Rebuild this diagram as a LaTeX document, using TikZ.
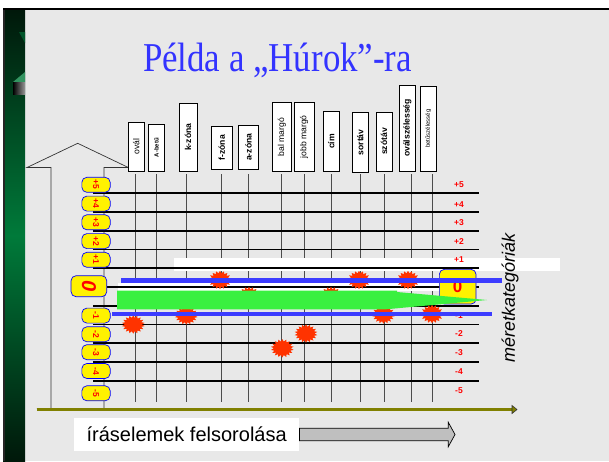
\documentclass[tikz,border=0pt]{standalone}
\usepackage{fontspec}
\setmainfont{Liberation Serif}
\setsansfont{Liberation Sans}
\usetikzlibrary{arrows.meta,shapes.geometric}
\definecolor{bgGrey}{RGB}{232,232,232}
\definecolor{hBlue}{RGB}{60,60,255}
\definecolor{tBlue}{RGB}{51,51,255}
\definecolor{hGreen}{RGB}{58,240,64}
\definecolor{hRed}{RGB}{255,51,0}
\definecolor{lRed}{RGB}{255,0,0}
\definecolor{hOlive}{RGB}{128,128,0}
\definecolor{sGreen}{RGB}{0,122,58}
\definecolor{sDark}{RGB}{0,24,10}
\tikzset{lb/.style={draw, fill=white, line width=.9pt, inner sep=0pt,
  font=\fontsize{8.6}{8.6}\selectfont\sffamily}}
\tikzset{yb/.style={draw=blue, fill=yellow, rounded corners=5pt,
  line width=.7pt, minimum width=28.3, minimum height=15, inner sep=0pt,
  text=lRed, font=\fontsize{8.5}{8.5}\selectfont\sffamily\bfseries}}
\tikzset{bu/.style={star, star points=18, star point ratio=1.35,
  fill=hRed, inner sep=0pt, minimum size=23, yscale=.8, transform shape}}
\tikzset{hl/.style={draw, line width=1.8pt}}
\tikzset{vl/.style={draw, black!70, line width=.7pt}}
\tikzset{rl/.style={text=lRed, font=\fontsize{8.5}{8.5}\selectfont\sffamily\bfseries}}
\tikzset{bl/.style={fill=hBlue}}

\begin{document}
\begin{tikzpicture}[x=1pt,y=-1pt]
    \useasboundingbox (0,0) rectangle (609,461);
    \fill[white] (0,0) rectangle (609,461);
    \fill[bgGrey] (25,10) rectangle (609,461);
    %% house arrow
    \draw[black!80, line width=.7pt, fill=bgGrey] (51,409) -- (51,167.5)
        -- (27,167.5) -- (77.7,143.3) -- (128.3,167.5) -- (104,167.5) -- (104,409);
    %% left strip
    \fill[black] (3,8) rectangle (609,10);
    \shade[top color=sDark, bottom color=sDark, middle color=sGreen] (3,10) rectangle (25,461);
    \fill[black!85] (3,10) rectangle (4.5,461);
    \fill[sGreen!70!black] (19,32) -- (25,32) -- (25,43) -- cycle;
    \fill[sGreen!80!white] (13,82) -- (25,72) -- (25,82) -- cycle;
    \shade[left color=black, right color=black!40] (13,82) rectangle (25,94);
    %% title
    \node (ttl) at (277.5,71) [anchor=base, text=tBlue,
        font=\fontsize{41}{41}\selectfont] {\scalebox{0.85}[1]{Példa a „Húrok”-ra}};
    %% column boxes
    \node (ov) at (136.3,146.7) [lb, minimum width=16, minimum height=48.7] {\rotatebox{90}{ovál}};
    \node (ab) at (156.5,147.5) [lb, minimum width=15.6, minimum height=47]
        {\rotatebox{90}{\fontsize{6}{6}\selectfont\bfseries A-betű}};
    \node (kz) at (188,137.2) [lb, minimum width=18, minimum height=67.7] {\rotatebox{90}{\bfseries k-zóna}};
    \node (fz) at (221.7,147.7) [lb, minimum width=20.7, minimum height=43.3] {\rotatebox{90}{\bfseries f-zóna}};
    \node (az) at (248.4,147.2) [lb, minimum width=19.3, minimum height=44.3] {\rotatebox{90}{\bfseries a-zóna}};
    \node (bm) at (281.9,136.9) [lb, minimum width=18.3, minimum height=68.3] {\rotatebox{90}{bal margó}};
    \node (jm) at (304.2,136.9) [lb, minimum width=19.7, minimum height=68.3] {\rotatebox{90}{jobb margó}};
    \node (ci) at (331.2,141.4) [lb, minimum width=15.7, minimum height=59.3] {\rotatebox{90}{\bfseries cím}};
    \node (st) at (360.3,142.4) [lb, minimum width=16, minimum height=59.3] {\rotatebox{90}{\bfseries sortáv}};
    \node (sz) at (384,141.5) [lb, minimum width=16, minimum height=59] {\rotatebox{90}{\bfseries szótáv}};
    \node (os) at (407.3,128) [lb, minimum width=16, minimum height=86] {\rotatebox{90}{\bfseries oválszélesség}};
    \node (bs) at (428.2,128.5) [lb, minimum width=15.7, minimum height=85]
        {\rotatebox{90}{\fontsize{6}{6}\selectfont betűszélesség}};
    %% grid
    \foreach \x in {135.7,156.7,186,221,248.3,281.7,304.3,331.7,360.7,384,411,432}
        \draw[vl] (\x,174) -- (\x,402);
    \fill[white] (174,258) rectangle (560,270.5);
    \fill[white] (118,282.5) rectangle (440,290.5);
    \foreach \k in {0,...,10}
        \draw[hl] (93,{193.3+18.75*\k}) -- (479,{193.3+18.75*\k});
    %% right scale
    \foreach \t/\y [count=\i] in {+5/185,+4/204.5,+3/222.8,+2/241.3,+1/260,
        -1/315.5,-2/334,-3/352.8,-4/371.5,-5/390.5}
        \node (rt\i) at (459,\y) [rl] {\t};
    \node (zr) at (457.7,286.7) [yb, minimum width=36.7, minimum height=34.7,
        font=\fontsize{17}{17}\selectfont\sffamily\bfseries] {0};
    %% marks
    \node (sa) at (220,280) [bu] {};
    \node (sb) at (359,280) [bu] {};
    \node (sc) at (408,280) [bu] {};
    \node (sd) at (249,296) [bu] {};
    \node (se) at (331,296) [bu] {};
    \node (sf) at (186.3,315.5) [bu] {};
    \node (sg) at (383.5,314.5) [bu] {};
    \node (sh) at (432,314) [bu] {};
    \node (si) at (133.3,324.5) [bu] {};
    \node (sj) at (306,333.5) [bu] {};
    \node (sk) at (282.3,348.3) [bu] {};
    \fill[bl] (121,278.3) rectangle (501.7,283.3);
    \fill[bl] (111.7,311.7) rectangle (491.7,316.3);
    \fill[hGreen] (117,290.5) -- (397,290.5) -- (397,292) -- (487,300)
        -- (386,309.3) -- (117,309.3) -- cycle;
    %% left scale
    \foreach \t/\y [count=\i] in {+5/184.8,+4/203.6,+3/222.3,+2/241.1,+1/259.8,
        -1/315.6,-2/334.3,-3/352.2,-4/371,-5/393.3}
        \node (lt\i) at (96,\y) [yb] {\rotatebox{-90}{\t}};
    \node (zl) at (88.9,286.2) [yb, minimum width=35.7, minimum height=21,
        font=\fontsize{20}{20}\selectfont\sffamily\bfseries\itshape] {\rotatebox{-90}{0}};
    %% axis
    \coordinate (ax0) at (36.7,409.5);
    \coordinate (ax1) at (513,409.5);
    \draw[black!80, line width=.6pt, double=hOlive, double distance=2.4pt] (ax0) -- (ax1);
    \draw[black!80, line width=.6pt, fill=hOlive] (512,405.5) -- (517,409.5) -- (512,413.5) -- cycle;
    %% labels
    \node (mk) at (510,298) [rotate=90, font=\fontsize{18}{18}\selectfont\sffamily\itshape] {méretkategóriák};
    \node (fel) at (74,434.5) [anchor=west, fill=white, minimum height=32.4,
        minimum width=225, inner sep=0pt, font=\fontsize{20}{20}\selectfont\sffamily] {íráselemek felsorolása};
    \draw[black, line width=.7pt, fill=black!25] (fel.east |- 0,428.3) -- (448.3,428.3) -- (448.3,422.3)
        -- (455,434.5) -- (448.3,446.7) -- (448.3,440.7) -- (fel.east |- 0,440.7) -- cycle;
\end{tikzpicture}
\end{document}
